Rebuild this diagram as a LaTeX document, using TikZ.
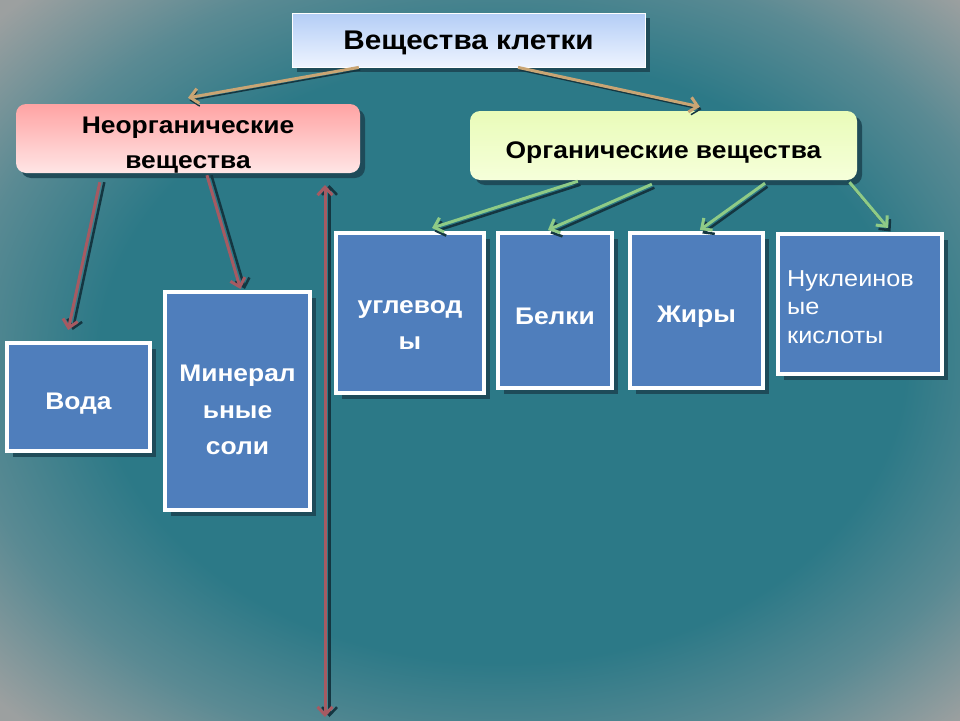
\documentclass[tikz,border=0pt]{standalone}
\usepackage{fontspec}
\setmainfont{Liberation Sans}[FakeStretch=1.1]
\usetikzlibrary{arrows.meta,calc,shadows}
\definecolor{bgteal}{HTML}{2C7987}
\definecolor{bgmid}{HTML}{5A8A93}
\definecolor{bggray}{HTML}{9CA0A0}
\definecolor{boxblue}{HTML}{4F7EBC}
\definecolor{shadowc}{HTML}{1D4754}
\definecolor{arrshadow}{HTML}{143641}
\definecolor{arrtan}{HTML}{C9A574}
\definecolor{arrred}{HTML}{A65A62}
\definecolor{arrgreen}{HTML}{8FCB86}
\definecolor{titletop}{HTML}{B3CDF6}
\definecolor{titlebot}{HTML}{EEF4FF}
\definecolor{pinktop}{HTML}{FFA3A3}
\definecolor{pinkbot}{HTML}{FFE6E6}
\definecolor{greentop}{HTML}{E9FCB9}
\definecolor{greenbot}{HTML}{F6FFDA}
\pgfdeclareradialshading{vign}{\pgfpoint{2bp}{0bp}}{color(0bp)=(bgteal); color(21bp)=(bgteal); color(28bp)=(bgmid); color(35bp)=(bggray); color(50bp)=(bggray)}
\begin{document}
\begin{tikzpicture}[x=1pt,y=-1pt,
  blbox/.style={draw=white, line width=4pt, fill=boxblue,
    drop shadow={shadow xshift=6pt, shadow yshift=-6pt, fill=shadowc, opacity=0.9}},
  bltext/.style={text=white, font=\bfseries\fontsize{24}{36.5}\selectfont, align=center, inner sep=0pt},
  topbox/.style={drop shadow={shadow xshift=5pt, shadow yshift=-5pt, fill=shadowc, opacity=0.9}},
  toptext/.style={font=\bfseries\fontsize{24}{35}\selectfont, align=center, text=black, inner sep=0pt},
  arrbase/.style={line width=3pt, -{Straight Barb[length=8pt,width=15pt]}},
  tanarr/.style={arrbase, draw=arrtan, preaction={draw=arrshadow, line width=1.5pt, transform canvas={xshift=1.5pt,yshift=-2.5pt}}},
  redarr/.style={arrbase, draw=arrred, preaction={draw=arrshadow, line width=2.5pt, transform canvas={xshift=4.5pt}}},
  grnarr/.style={arrbase, draw=arrgreen, preaction={draw=arrshadow, line width=2.5pt, transform canvas={xshift=2.5pt,yshift=-3.5pt}}}
]
\shade[shading=vign] (0,0) rectangle (960,720);
\useasboundingbox (0,0) rectangle (960,720);

% top level
\node[topbox, top color=titletop, bottom color=titlebot, draw=white, line width=0.8pt,
  minimum width=353pt, minimum height=54pt] (title) at (468.5,40) {};
\node[toptext, font=\bfseries\fontsize{27}{30}\selectfont] (titlet) at ([yshift=-3pt]title.center) {Вещества клетки};
\node[topbox, top color=pinktop, bottom color=pinkbot, rounded corners=10pt,
  minimum width=344pt, minimum height=69pt] (neorg) at (188,138.5) {};
\node[toptext] (neorgt) at ([yshift=-7pt]neorg.center) {Неорганические\\вещества};
\node[topbox, top color=greentop, bottom color=greenbot, rounded corners=10pt,
  minimum width=387pt, minimum height=69pt] (organ) at (663.5,145.5) {};
\node[toptext] (organt) at ([yshift=-7pt]organ.center) {Органические вещества};

% blue boxes
\node[blbox, minimum width=143pt, minimum height=108pt] (voda) at (78.5,397) {};
\node[bltext] (vodat) at ([yshift=-7pt]voda.center) {Вода};
\node[blbox, minimum width=145pt, minimum height=218pt] (minsol) at (237.5,401) {};
\node[bltext] (minsolt) at ([yshift=-9pt]minsol.center) {Минерал\\ьные\\соли};
\node[blbox, minimum width=148pt, minimum height=160pt] (uglev) at (410,313) {};
\node[bltext] (uglevt) at ([yshift=-12pt]uglev.center) {углевод\\ы};
\node[blbox, minimum width=114pt, minimum height=155pt] (belki) at (555,310.5) {};
\node[bltext] (belkit) at ([yshift=-6pt]belki.center) {Белки};
\node[blbox, minimum width=133pt, minimum height=155pt] (zhiry) at (696.5,310.5) {};
\node[bltext] (zhiryt) at ([yshift=-6pt]zhiry.center) {Жиры};
\node[blbox, minimum width=164pt, minimum height=140pt] (nukl) at (860,304) {};
\node[bltext, align=left, anchor=west, font=\fontsize{23}{28.5}\selectfont] (nuklt) at ([xshift=11pt,yshift=-3pt]nukl.west) {Нуклеинов\\ые\\кислоты};

% connectors
\draw[tanarr] ($(title.south west)!0.19!(title.south east)$) -- ([yshift=6pt]neorg.north);
\draw[tanarr] ($(title.south west)!0.64!(title.south east)$) -- ([yshift=4pt]$(organ.north west)!0.594!(organ.north east)$);

\draw[redarr] ([yshift=-9pt]$(neorg.south west)!0.244!(neorg.south east)$) -- ([yshift=11pt]$(voda.north west)!0.43!(voda.north east)$);
\draw[redarr] ([yshift=-2pt]$(neorg.south west)!0.555!(neorg.south east)$) -- ([yshift=1pt]$(minsol.north west)!0.52!(minsol.north east)$);

\coordinate (vtop) at (325,185);
\coordinate (vbot) at (325,717);
\draw[redarr, {Straight Barb[length=8pt,width=15pt]}-{Straight Barb[length=8pt,width=15pt]}] (vtop) -- (vbot);

\draw[grnarr] ([yshift=-1pt]$(organ.south west)!0.279!(organ.south east)$) -- ([yshift=3pt]$(uglev.north west)!0.645!(uglev.north east)$);
\draw[grnarr] ([yshift=-4pt]$(organ.south west)!0.47!(organ.south east)$) -- ([yshift=1pt]$(belki.north west)!0.44!(belki.north east)$);
\draw[grnarr] ([yshift=-3pt]$(organ.south west)!0.762!(organ.south east)$) -- ([yshift=1pt]$(zhiry.north west)!0.525!(zhiry.north east)$);
\draw[grnarr] ([yshift=-2pt]$(organ.south west)!0.98!(organ.south east)$) -- ([yshift=4pt]$(nukl.north west)!0.667!(nukl.north east)$);
\end{tikzpicture}
\end{document}
